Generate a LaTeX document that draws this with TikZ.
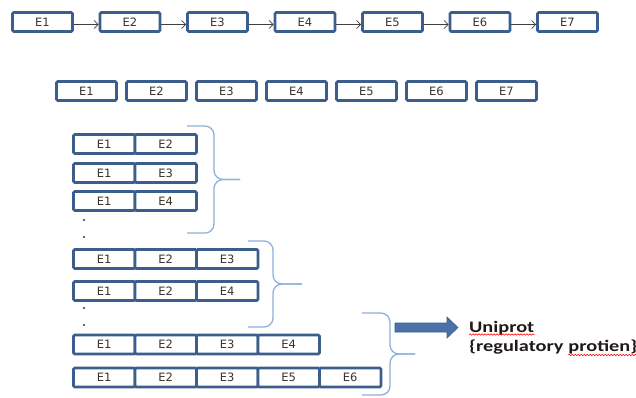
\documentclass[tikz,border=0pt]{standalone}
\usepackage{fontspec}
\newfontfamily\efont{DejaVu Sans}
\newfontfamily\ufont[FakeStretch=1.27]{Carlito}
\usetikzlibrary{arrows.meta,decorations.pathmorphing}
\definecolor{boxblue}{HTML}{3B5E8C}
\definecolor{etext}{HTML}{3A3328}
\definecolor{arrgray}{HTML}{404040}
\definecolor{braceblue}{HTML}{8DB0DD}
\definecolor{dotblue}{HTML}{2E2A6E}
\definecolor{arrowfill}{HTML}{4A72A8}
\definecolor{arrowedge}{HTML}{385D8A}
\definecolor{utext}{HTML}{1F1A17}
\begin{document}
\begin{tikzpicture}[x=1pt,y=-1pt,
  ebox/.style={draw=boxblue, line width=2.6pt, fill=white, minimum width=60pt,
    minimum height=19pt, inner sep=0pt, rounded corners=1.2pt,
    font=\efont\fontsize{11.5}{12}\selectfont, text=etext},
  cell/.style={ebox, minimum width=61.5pt},
  chainarrow/.style={draw=arrgray, line width=0.8pt, -{Straight Barb[length=4pt,width=8pt]}},
  bracecol/.style={draw=braceblue, line width=1.3pt, rounded corners=9pt},
  dotmark/.style={circle, fill=dotblue, inner sep=0pt, minimum size=2.2pt},
  utxt/.style={anchor=base west, inner sep=0pt, text=utext, font=\ufont\bfseries\fontsize{16}{18}\selectfont},
  wavy/.style={draw=red, line width=0.6pt, decorate, decoration={snake, amplitude=0.7pt, segment length=3pt}}]
\useasboundingbox (0,0) rectangle (636,397);

% top chain
\foreach \i in {1,...,7}
  \node[ebox] (t\i) at ({42.5+87.5*(\i-1)},22) {E\i};
\foreach \i [count=\j from 2] in {1,...,6}
  \draw[chainarrow] ([yshift=-2.5pt]t\i.east) -- ([yshift=-2.5pt]t\j.west);

% second row
\foreach \i in {1,...,7}
  \node[ebox] (s\i) at ({86.5+70*(\i-1)},91) {E\i};

% group 1
\foreach \lab [count=\k] in {E1,E2}
  \node[cell] (aa\k) at ({42.75+61.5*\k},144) {\lab};
\foreach \lab [count=\k] in {E1,E3}
  \node[cell] (ab\k) at ({42.75+61.5*\k},173) {\lab};
\foreach \lab [count=\k] in {E1,E4}
  \node[cell] (ac\k) at ({42.75+61.5*\k},201) {\lab};
\node[dotmark] (d1) at (84,220) {};
\node[dotmark] (d2) at (84,237) {};

% group 2
\foreach \lab [count=\k] in {E1,E2,E3}
  \node[cell] (ba\k) at ({42.75+61.5*\k},259) {\lab};
\foreach \lab [count=\k] in {E1,E2,E4}
  \node[cell] (bb\k) at ({42.75+61.5*\k},291) {\lab};
\node[dotmark] (d3) at (84,308) {};
\node[dotmark] (d4) at (84,325) {};

% group 3
\foreach \lab [count=\k] in {E1,E2,E3,E4}
  \node[cell] (ca\k) at ({42.75+61.5*\k},344.5) {\lab};
\foreach \lab [count=\k] in {E1,E2,E3,E5,E6}
  \node[cell] (cb\k) at ({42.75+61.5*\k},377.5) {\lab};

% braces
\draw[bracecol] (187,126) -- (214,126) -- (214,179.5) -- (240,179.5);
\draw[bracecol] (187,233) -- (214,233) -- (214,179.5) -- (240,179.5);
\draw[bracecol] (248,241) -- (273,241) -- (273,284) -- (302,284);
\draw[bracecol] (248,327) -- (273,327) -- (273,284) -- (302,284);
\draw[bracecol] (362,313) -- (390,313) -- (390,354) -- (415,354);
\draw[bracecol] (362,395) -- (390,395) -- (390,354) -- (415,354);

% block arrow
\filldraw[fill=arrowfill, draw=arrowedge, line width=0.6pt]
  (395,323) -- (447,323) -- (447,317) -- (458,327.5) -- (447,338) -- (447,332) -- (395,332) -- cycle;

% text
\node[utxt] (u1) at (469,332) {Uniprot};
\node[utxt] (u2) at (469,351) {\{regulatory};
\node[utxt] (u3) at ([xshift=4.6pt]u2.base east) {protien\}};
\draw[wavy] ([yshift=-2.5pt]u1.base west) -- ([yshift=-2.5pt]u1.base east);
\draw[wavy] ([yshift=-4pt]u3.base west) -- ([yshift=-4pt]u3.base east);
\end{tikzpicture}
\end{document}
